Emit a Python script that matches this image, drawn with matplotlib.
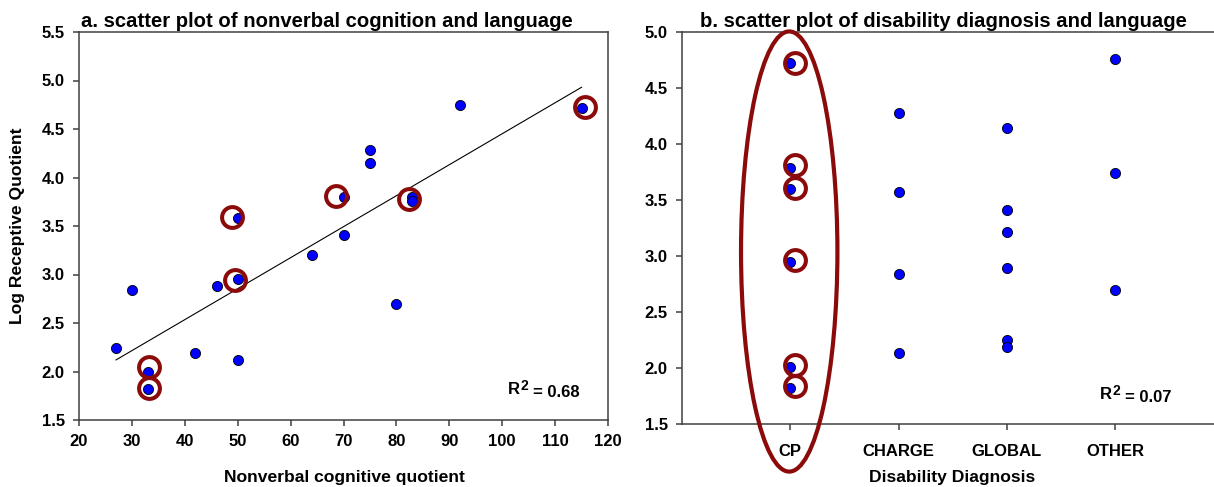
import matplotlib
matplotlib.use("Agg")
import matplotlib.pyplot as plt
import numpy as np
from matplotlib.patches import Ellipse

plt.rcParams['font.family'] = ['Liberation Sans', 'DejaVu Sans']

# panel a: nonverbal cognitive quotient vs log receptive quotient
nvq = [27, 30, 33, 33, 42, 46, 50, 50, 50, 64, 70, 70, 75, 75, 83, 83, 80, 92, 115]
log_rq = [2.24, 2.84, 2.0, 1.82, 2.19, 2.88, 2.95, 2.12, 3.58, 3.2, 3.41, 3.8,
          4.28, 4.15, 3.80, 3.76, 2.70, 4.75, 4.72]
# highlighted (CP) children in panel a
cp_nvq = [33.3, 33.3, 49.0, 49.4, 68.6, 82.3, 115.7]
cp_lrq = [2.05, 1.83, 3.59, 2.94, 3.81, 3.78, 4.73]

# panel b: diagnosis groups
groups = ['CP', 'CHARGE', 'GLOBAL', 'OTHER']
group_vals = [
    [4.72, 3.79, 3.60, 2.95, 2.01, 1.82],
    [4.28, 3.57, 2.84, 2.13],
    [4.14, 3.41, 3.21, 2.89, 2.25, 2.19],
    [4.76, 3.74, 2.70],
]
cp_circles = [4.72, 3.81, 3.61, 2.96, 2.03, 1.84]

W, H = 1214, 487
fig = plt.figure(figsize=(W / 100, H / 100), dpi=100)

dark_red = '#8B0A0A'
spine_col = '#404040'


def px_axes(x0, y0, x1, y1):
    return fig.add_axes([x0 / W, 1 - y1 / H, (x1 - x0) / W, (y1 - y0) / H])


def style(ax):
    for s in ax.spines.values():
        s.set_color(spine_col)
        s.set_linewidth(1.1)
    ax.tick_params(direction='out', length=4.3, width=1.1, color=spine_col,
                   labelsize=12, pad=6)
    for lbl in ax.get_xticklabels() + ax.get_yticklabels():
        lbl.set_fontweight('bold')


def r2_label(ax, x, y, value):
    t = ax.text(x, y, 'R', fontsize=12, fontweight='bold', ha='left', va='baseline')
    ax.annotate('2', xy=(1, 0), xycoords=t, xytext=(0.5, 5), textcoords='offset points',
                fontsize=10, fontweight='bold', ha='left', va='baseline')
    ax.annotate(f'= {value}', xy=(1, 0), xycoords=t, xytext=(9, 0),
                textcoords='offset points', fontsize=12, fontweight='bold',
                ha='left', va='baseline')


# ---- panel a
ax1 = px_axes(79, 32, 608, 420)
ax1.plot(nvq, log_rq, 'o', color='#0000FF', mec='black', mew=0.6, ms=7.3, zorder=3)
slope, icpt = np.polyfit(nvq, log_rq, 1)
xs = np.array([min(nvq), max(nvq)])
ax1.plot(xs, slope * xs + icpt, color='black', lw=0.8, zorder=2)
ax1.plot(cp_nvq, cp_lrq, 'o', mfc='none', mec=dark_red, mew=2.9, ms=15, zorder=4)
ax1.set_xlim(20, 120)
ax1.set_ylim(1.5, 5.5)
ax1.set_xticks(np.arange(20, 121, 10))
ax1.set_yticks(np.arange(1.5, 5.51, 0.5))
ax1.set_yticklabels([f'{v:.1f}' for v in np.arange(1.5, 5.51, 0.5)])
style(ax1)
r2_label(ax1, 101.1, 1.77, '0.68')

# ---- panel b
ax2 = px_axes(682, 32, 682 + 541.5, 424)
for i, vals in enumerate(group_vals):
    ax2.plot([i + 1] * len(vals), vals, 'o', color='#0000FF', mec='black',
             mew=0.6, ms=7.3, zorder=3)
ax2.plot([1.04] * len(cp_circles), cp_circles, 'o', mfc='none', mec=dark_red,
         mew=2.9, ms=15, zorder=4)
ax2.add_patch(Ellipse((0.99, 3.04), 0.89, 3.93, fill=False, ec=dark_red, lw=3,
                      clip_on=False, zorder=5))
ax2.set_xlim(0, 5)
ax2.set_ylim(1.5, 5.0)
ax2.set_xticks(range(1, 5))
ax2.set_xticklabels(groups)
ax2.set_yticks(np.arange(1.5, 5.01, 0.5))
ax2.set_yticklabels([f'{v:.1f}' for v in np.arange(1.5, 5.01, 0.5)])
style(ax2)
ax2.tick_params(axis='x', pad=10)
r2_label(ax2, 3.86, 1.72, '0.07')

# titles and axis labels
fig.text(81 / W, 1 - 27 / H, 'a. scatter plot of nonverbal cognition and language',
         fontsize=14.6, fontweight='bold', ha='left', va='baseline')
fig.text(700 / W, 1 - 27 / H, 'b. scatter plot of disability diagnosis and language',
         fontsize=14.6, fontweight='bold', ha='left', va='baseline')
fig.text(344 / W, 1 - 470 / H, 'Nonverbal cognitive quotient', fontsize=12.6,
         fontweight='bold', ha='center', va='top')
fig.text(952 / W, 1 - 470 / H, 'Disability Diagnosis', fontsize=12.6,
         fontweight='bold', ha='center', va='top')
fig.text(18 / W, 1 - 226 / H, 'Log Receptive Quotient', fontsize=12.6,
         fontweight='bold', rotation=90, ha='center', va='center')

fig.savefig('out.png', dpi=100)
